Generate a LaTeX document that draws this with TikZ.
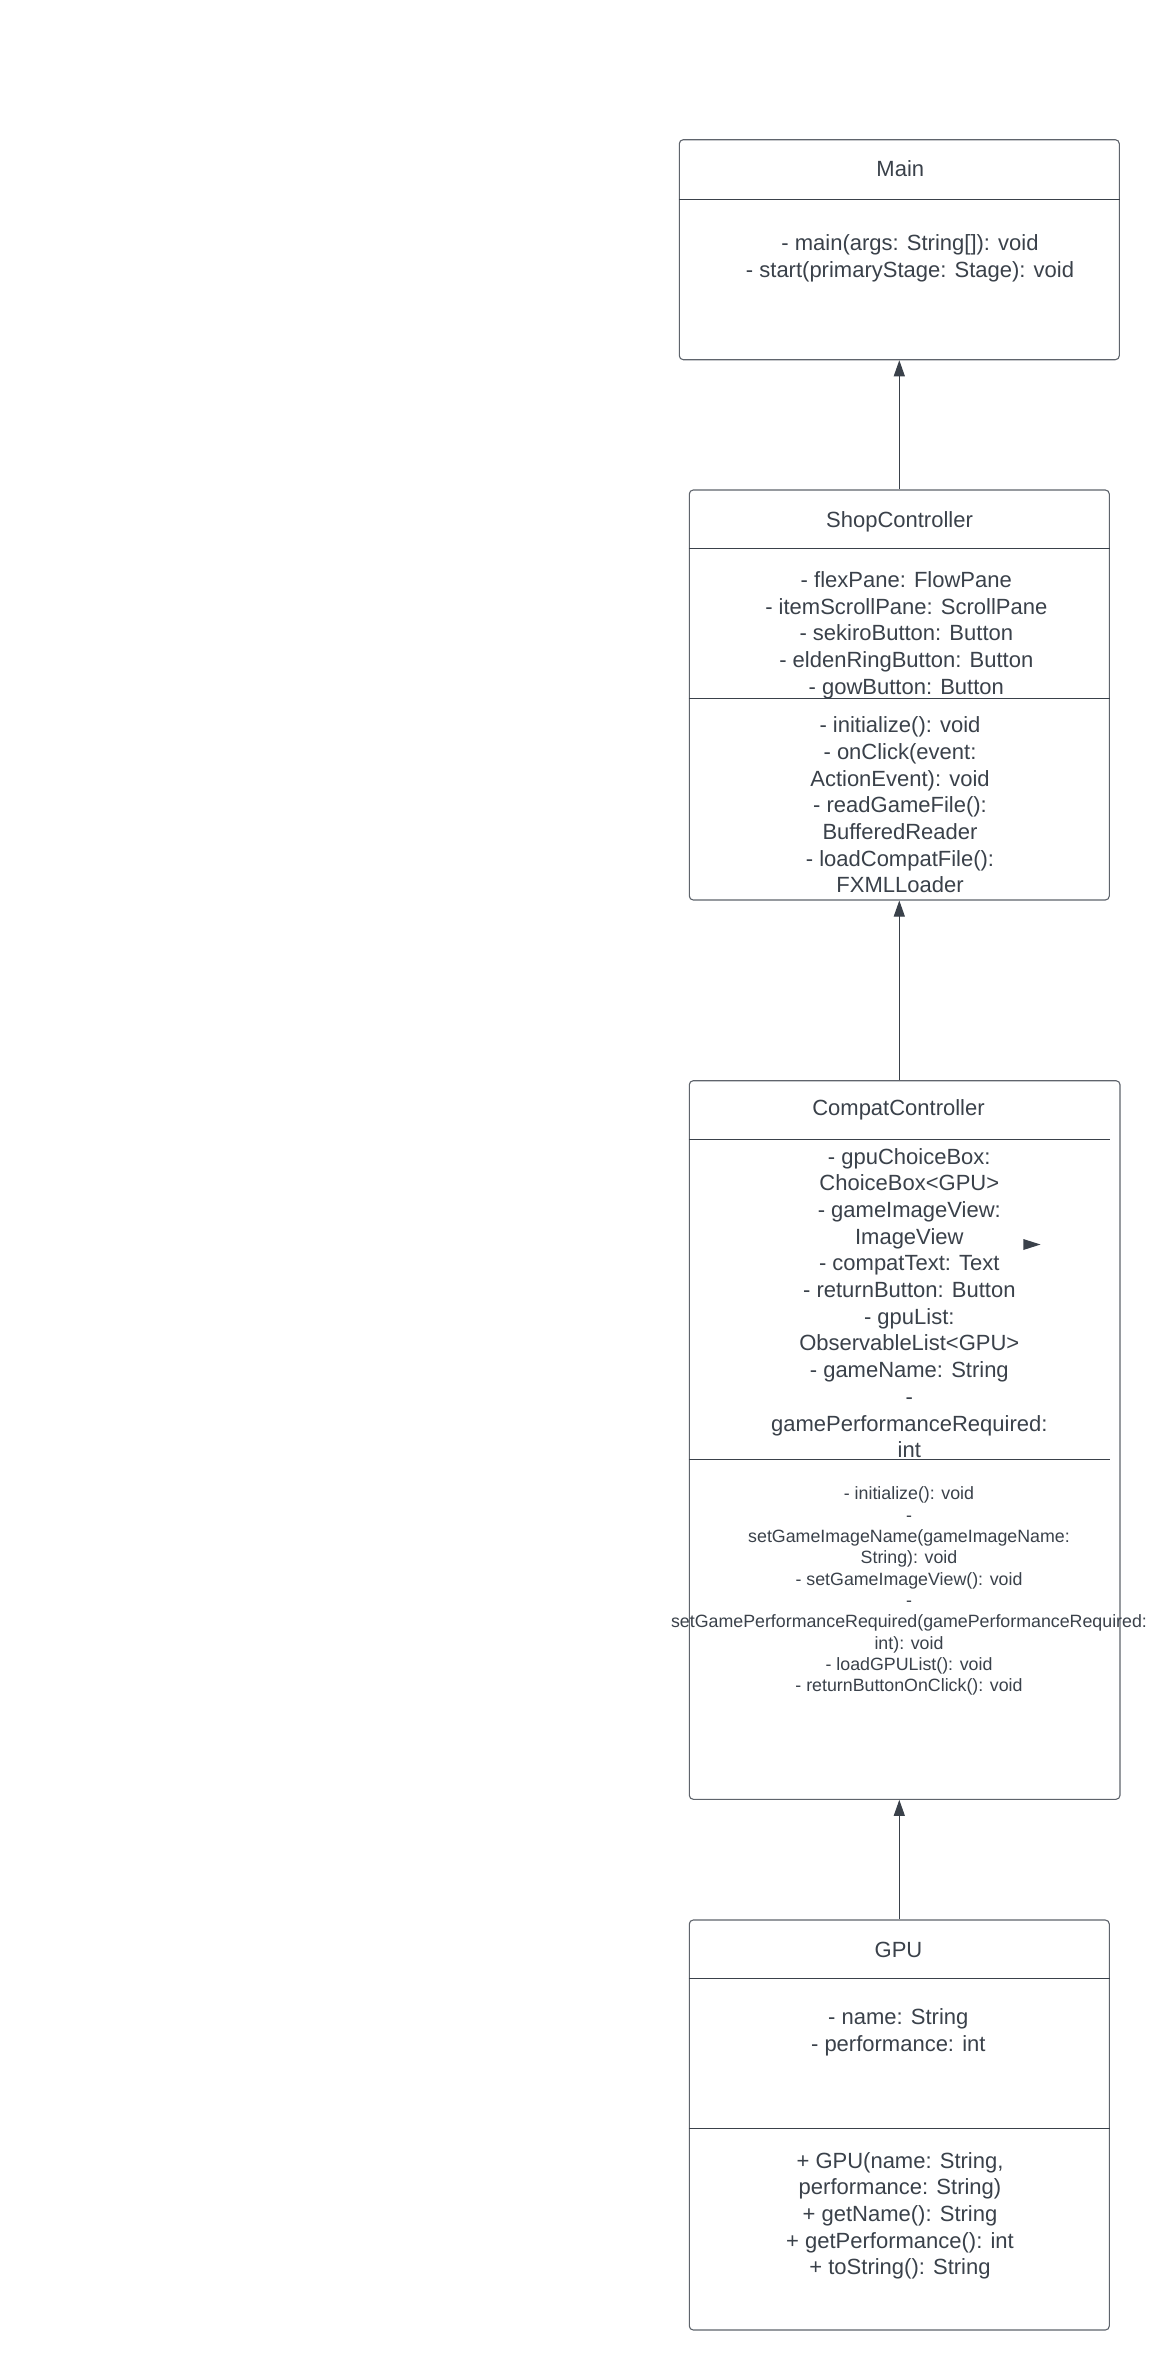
\documentclass[tikz,border=0pt]{standalone}
\usepackage{fontspec}
\setmainfont{Liberation Sans}
\usetikzlibrary{arrows.meta}
\definecolor{tc}{HTML}{3A414A}
\definecolor{bc}{HTML}{5F646C}
\definecolor{lc}{HTML}{3A414A}
\newcommand{\strutA}{\rule[-7.7pt]{0pt}{26.7pt}}
\newcommand{\strutB}{\rule[-6.03pt]{0pt}{21.33pt}}
\begin{document}
\begin{tikzpicture}[x=1pt,y=-1pt,
  box/.style={draw=bc, line width=1.1pt, rounded corners=4pt, inner sep=0pt},
  divline/.style={draw=tc, line width=1.1pt},
  big/.style={font=\fontsize{22}{26.7}\selectfont, text=tc, align=center, inner sep=0pt, anchor=north},
  small/.style={font=\fontsize{17.8}{21.33}\selectfont, text=tc, align=center, inner sep=0pt, anchor=north},
  arr/.style={draw=lc, line width=1.1pt, -{Triangle[width=11pt,length=16pt]}}]
\fill[white] (0,0) rectangle (1160,2370);
\useasboundingbox (0,0) rectangle (1160,2370);

% Main
\node[box, minimum width=440pt, minimum height=220pt] (main) at (899.3,249.7) {};
\draw[divline] ([yshift=-60.3pt]main.north west) -- ([yshift=-60.3pt]main.north east);
\node[big] (maint) at (900.3,157.35) {\strutA Main};
\node[big] (mainm) at (910,231.35) {\strutA - main(args: String[]): void\\ \strutA - start(primaryStage: Stage): void};

% ShopController
\node[box, minimum width=420pt, minimum height=410pt] (shop) at (899.3,695) {};
\draw[divline] ([yshift=-59.3pt]shop.north west) -- ([yshift=-59.3pt]shop.north east);
\draw[divline] ([yshift=-209.3pt]shop.north west) -- ([yshift=-209.3pt]shop.north east);
\node[big] (shopt) at (899.5,508.15) {\strutA ShopController};
\node[big] (shopa) at (906.3,568.15) {\strutA - flexPane: FlowPane\\ \strutA - itemScrollPane: ScrollPane\\ \strutA - sekiroButton: Button\\ \strutA - eldenRingButton: Button\\ \strutA - gowButton: Button};
\node[big] (shopm) at (900,713.55) {\strutA - initialize(): void\\ \strutA - onClick(event:\\ \strutA ActionEvent): void\\ \strutA - readGameFile():\\ \strutA BufferedReader\\ \strutA - loadCompatFile():\\ \strutA FXMLLoader};

% CompatController
\node[box, minimum width=430.7pt, minimum height=718.6pt] (compat) at (904.65,1440) {};
\draw[divline] ([yshift=-59.3pt]compat.north west) -- ([yshift=-59.3pt,xshift=-10.7pt]compat.north east);
\draw[divline] ([yshift=-379.3pt]compat.north west) -- ([yshift=-379.3pt,xshift=-10.7pt]compat.north east);
\node[big] (compatt) at (898.5,1096.55) {\strutA CompatController};
\node[big] (compata) at (909.3,1144.85) {\strutA - gpuChoiceBox:\\ \strutA ChoiceBox<GPU>\\ \strutA - gameImageView:\\ \strutA ImageView\\ \strutA - compatText: Text\\ \strutA - returnButton: Button\\ \strutA - gpuList:\\ \strutA ObservableList<GPU>\\ \strutA - gameName: String\\ \strutA -\\ \strutA gamePerformanceRequired:\\ \strutA int};
\node[small] (compatm) at (909,1484.37) {\strutB - initialize(): void\\ \strutB -\\ \strutB setGameImageName(gameImageName:\\ \strutB String): void\\ \strutB - setGameImageView(): void\\ \strutB -\\ \strutB setGamePerformanceRequired(gamePerformanceRequired:\\ \strutB int): void\\ \strutB - loadGPUList(): void\\ \strutB - returnButtonOnClick(): void};
\fill[lc] (1023.3,1239) -- (1040.5,1244.5) -- (1023.3,1250) -- cycle;

% GPU
\node[box, minimum width=420pt, minimum height=410pt] (gpu) at (899.3,2125) {};
\draw[divline] ([yshift=-59.3pt]gpu.north west) -- ([yshift=-59.3pt]gpu.north east);
\draw[divline] ([yshift=-209.3pt]gpu.north west) -- ([yshift=-209.3pt]gpu.north east);
\node[big] (gput) at (898.5,1937.85) {\strutA GPU};
\node[big] (gpua) at (898.3,2005.55) {\strutA - name: String\\ \strutA - performance: int};
\node[big] (gpum) at (900,2148.85) {\strutA + GPU(name: String,\\ \strutA performance: String)\\ \strutA + getName(): String\\ \strutA + getPerformance(): int\\ \strutA + toString(): String};

% connectors
\draw[arr] (shop.north) -- (main.south);
\draw[arr] (compat.north -| shop.south) -- (shop.south);
\draw[arr] (gpu.north) -- (gpu.north |- compat.south);
\end{tikzpicture}
\end{document}
